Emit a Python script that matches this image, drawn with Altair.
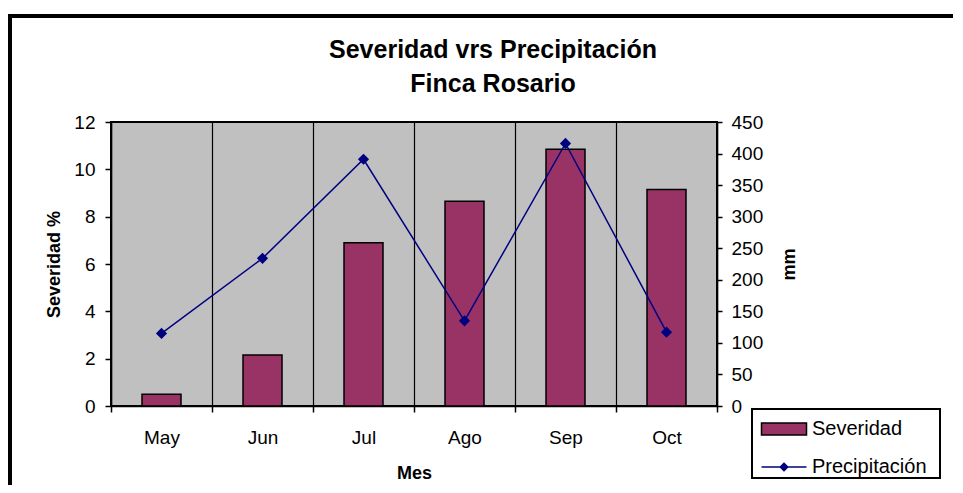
import altair as alt
import pandas as pd

meses = ["May", "Jun", "Jul", "Ago", "Sep", "Oct"]
severidad = [0.5, 2.15, 6.9, 8.65, 10.85, 9.15]
precipitacion = [115, 234, 391, 135, 416, 117]
ticks_izq = [0, 2, 4, 6, 8, 10, 12]
ticks_der = [0, 50, 100, 150, 200, 250, 300, 350, 400, 450]
titulo = "Severidad vrs Precipitación"
subtitulo = "Finca Rosario"

df = pd.DataFrame({
    "Mes": meses,
    "Severidad": severidad,
    "Precipitacion": precipitacion,
    "sb": ["Severidad"] * len(meses),
    "sl": ["Precipitación"] * len(meses),
})

FONT = "Liberation Sans"
W, H = 606, 284

common_legend = dict(
    title=None,
    orient="none",
    padding=0,
    labelFont=FONT,
    labelFontSize=20,
    labelColor="black",
    labelOffset=17,
    symbolSize=400,
    symbolOffset=12,
    symbolStrokeWidth=1.5,
    symbolOpacity=1,
)

x_enc = alt.X(
    "Mes:N",
    sort=meses,
    scale=alt.Scale(paddingInner=0, paddingOuter=0),
    axis=alt.Axis(
        title="Mes",
        labelAngle=0,
        tickBand="extent",
        grid=True,
        gridColor="black",
        gridWidth=1.2,
        gridOpacity=1,
        domainColor="black",
        domainWidth=1.5,
        tickColor="black",
        tickSize=6,
        labelPadding=16,
        titlePadding=17,
    ),
)

one = pd.DataFrame({"a": [0]})
legend_box = alt.Chart(one).mark_rect(fill="white", stroke="black", strokeWidth=2, clip=False).encode(
    x=alt.value(641), x2=alt.value(829), y=alt.value(287), y2=alt.value(356)
)

bars = alt.Chart(df).mark_bar(size=39, stroke="black", strokeWidth=1.5).encode(
    x=x_enc,
    y=alt.Y(
        "Severidad:Q",
        scale=alt.Scale(domain=[0, 12], nice=False),
        axis=alt.Axis(
            title="Severidad %",
            values=ticks_izq,
            grid=False,
            tickColor="black",
            tickSize=6,
            domainColor="black",
            labelPadding=10,
            titlePadding=10,
        ),
    ),
    fill=alt.Fill(
        "sb:N",
        scale=alt.Scale(domain=["Severidad"], range=["#993366"]),
        legend=alt.Legend(
            legendX=650, legendY=296,
            symbolType="M-2.25,-0.6H2.25V0.6H-2.25Z",
            symbolStrokeColor="black",
            **common_legend,
        ),
    ),
)

line = alt.Chart(df).mark_line(
    strokeWidth=1.5,
    point=alt.OverlayMarkDef(shape="diamond", size=70, filled=True, color="#000080"),
).encode(
    x=alt.X("Mes:N", sort=meses),
    y=alt.Y(
        "Precipitacion:Q",
        scale=alt.Scale(domain=[0, 450], nice=False),
        axis=alt.Axis(
            title="mm",
            orient="right",
            values=ticks_der,
            grid=False,
            tickColor="black",
            tickSize=5,
            domainColor="black",
            labelPadding=9,
            titlePadding=36,
            titleAngle=270,
        ),
    ),
    stroke=alt.Stroke(
        "sl:N",
        scale=alt.Scale(domain=["Precipitación"], range=["#000080"]),
        legend=alt.Legend(
            legendX=650, legendY=334,
            symbolType="M-2.25,0H2.25M-0.38,0L0,-0.38L0.38,0L0,0.38Z",
            symbolFillColor="#000080",
            **common_legend,
        ),
    ),
)

title_style = dict(font=FONT, fontSize=25, fontWeight="bold", color="black",
                   align="center", baseline="middle", clip=False)
t1 = alt.Chart(one).mark_text(**title_style).encode(
    x=alt.value(382), y=alt.value(-72), text=alt.value(titulo)
)
t2 = alt.Chart(one).mark_text(**title_style).encode(
    x=alt.value(382), y=alt.value(-38), text=alt.value(subtitulo)
)

frame_v = alt.Chart(one).mark_rule(color="black", strokeWidth=4, clip=False).encode(
    x=alt.value(-101), y=alt.value(-108), y2=alt.value(400)
)
frame_h = alt.Chart(one).mark_rule(color="black", strokeWidth=4, clip=False).encode(
    x=alt.value(-103), x2=alt.value(900), y=alt.value(-106)
)

chart = alt.layer(legend_box, bars, line, t1, t2, frame_v, frame_h).resolve_scale(
    y="independent"
).properties(
    width=W,
    height=H,
    background="white",
    autosize=alt.AutoSizeParams(type="none"),
    padding={"left": 103, "top": 114, "right": 236, "bottom": 79},
).configure_view(
    fill="#C0C0C0",
    stroke="black",
    strokeWidth=2,
).configure_axis(
    labelFont=FONT,
    labelFontSize=19,
    labelColor="black",
    titleFont=FONT,
    titleFontSize=18,
    titleFontWeight="bold",
    titleColor="black",
    domainWidth=1.5,
    tickWidth=1.5,
)

chart.save("out.html", embed_options={"renderer": "svg", "actions": False})
